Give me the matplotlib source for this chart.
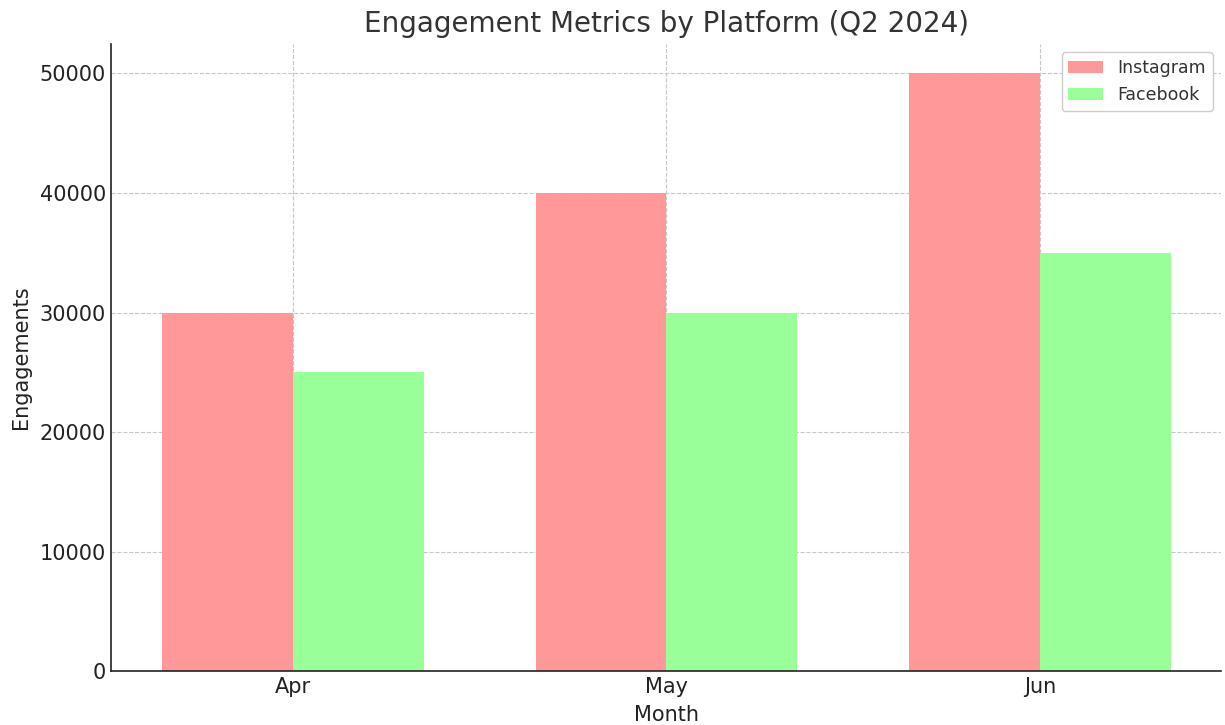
import numpy as np
import matplotlib
matplotlib.use("Agg")
import matplotlib.pyplot as plt

# data
months = ["Apr", "May", "Jun"]
instagram = [30000, 40000, 50000]
facebook = [25000, 30000, 35000]

x = np.arange(len(months))
width = 0.35

fig, ax = plt.subplots(figsize=(12.25, 7.25), dpi=100)
ax.bar(x - width / 2, instagram, width, color="#ff9999", label="Instagram", zorder=2)
ax.bar(x + width / 2, facebook, width, color="#99ff99", label="Facebook", zorder=2)

ax.set_xticks(x)
ax.set_xticklabels(months)
ax.set_title("Engagement Metrics by Platform (Q2 2024)", fontsize=20, color="#333333", pad=8)
ax.set_xlabel("Month", fontsize=15, color="#222222", labelpad=6)
ax.set_ylabel("Engagements", fontsize=15, color="#222222", labelpad=6)
ax.tick_params(labelsize=15, length=0, colors="#222222")
ax.tick_params(axis="x", pad=4)
ax.tick_params(axis="y", pad=4)
ax.grid(True, linestyle="--", color="#c8c8c8", linewidth=0.8, zorder=0)

ax.spines["top"].set_visible(False)
ax.spines["right"].set_visible(False)
ax.spines["left"].set_color("#222222")
ax.spines["bottom"].set_color("#222222")
ax.spines["left"].set_linewidth(1.2)
ax.spines["bottom"].set_linewidth(1.2)

leg = ax.legend(fontsize=12.5, loc="upper right", framealpha=1, edgecolor="#cccccc")
for t in leg.get_texts():
    t.set_color("#333333")

plt.subplots_adjust(left=0.091, right=0.997, top=0.94, bottom=0.074)
plt.savefig("out.png")
